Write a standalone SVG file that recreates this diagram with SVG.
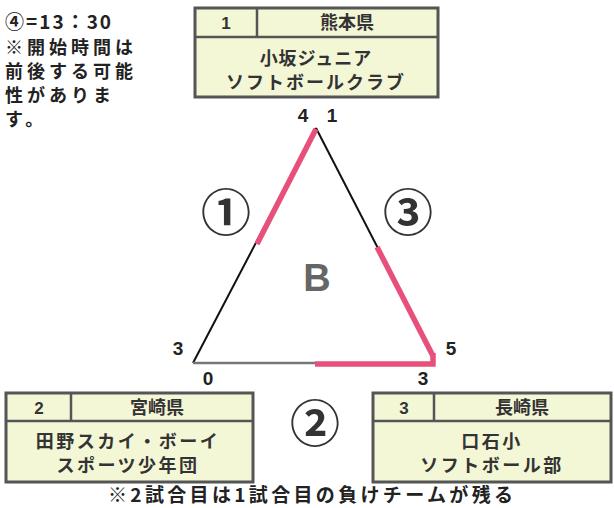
<svg xmlns="http://www.w3.org/2000/svg" width="614" height="508" viewBox="0 0 614 508">
<style>
.box{fill:#f4f7d6;stroke:#555;stroke-width:3}
.div{stroke:#555;stroke-width:2.5}
.t{font-family:"Liberation Sans","Noto Sans CJK JP",sans-serif;font-weight:bold;fill:#333;text-anchor:middle}
.j{font-family:"Noto Sans CJK JP",sans-serif;font-weight:bold;fill:#333;text-anchor:middle}
.note{font-family:"Noto Sans CJK JP",sans-serif;font-weight:bold;fill:#222}
.num{font-family:"Liberation Sans",sans-serif;font-weight:bold;fill:#222;font-size:19px;text-anchor:middle}
.blk{stroke:#111;stroke-width:2;fill:none}
.pink{stroke:#e8507c;stroke-width:5.5;fill:none;stroke-linecap:butt}
.circ{font-family:"Noto Sans CJK JP",sans-serif;font-weight:bold;fill:#333;font-size:50px;text-anchor:middle}
</style>
<rect width="614" height="508" fill="#fff"/>
<g id="notes">
<text class="note" x="5" y="29" font-size="19" letter-spacing="2">④=13：30</text>
<text class="note" x="5" y="54" font-size="18" letter-spacing="4">※開始時間は</text>
<text class="note" x="5" y="78" font-size="18" letter-spacing="4">前後する可能</text>
<text class="note" x="5" y="102" font-size="18" letter-spacing="4">性がありま</text>
<text class="note" x="5" y="126" font-size="18" letter-spacing="4">す。</text>
</g>
<g id="team1">
<rect class="box" x="195" y="8" width="243" height="89"/>
<line class="div" x1="195" y1="37" x2="438" y2="37"/>
<line class="div" x1="257" y1="8" x2="257" y2="37"/>
<text class="t" x="226" y="29" font-size="17">1</text>
<text class="j" x="347" y="29" font-size="18">熊本県</text>
<text class="j" x="316" y="65" font-size="18" letter-spacing="1">小坂ジュニア</text>
<text class="j" x="316" y="89" font-size="18" letter-spacing="2">ソフトボールクラブ</text>
</g>
<g id="team2">
<rect class="box" x="6" y="393" width="247" height="89"/>
<line class="div" x1="6" y1="421" x2="253" y2="421"/>
<line class="div" x1="71" y1="393" x2="71" y2="421"/>
<text class="t" x="39" y="414" font-size="17">2</text>
<text class="j" x="157" y="414" font-size="18">宮崎県</text>
<text class="j" x="128" y="448" font-size="18" letter-spacing="2.5">田野スカイ・ボーイ</text>
<text class="j" x="128" y="472" font-size="18" letter-spacing="2.5">スポーツ少年団</text>
</g>
<g id="team3">
<rect class="box" x="373" y="393" width="238" height="89"/>
<line class="div" x1="373" y1="421" x2="611" y2="421"/>
<line class="div" x1="434" y1="393" x2="434" y2="421"/>
<text class="t" x="404" y="414" font-size="17">3</text>
<text class="j" x="522" y="414" font-size="18">長崎県</text>
<text class="j" x="492" y="448" font-size="18" letter-spacing="2.5">口石小</text>
<text class="j" x="492" y="472" font-size="18" letter-spacing="2.5">ソフトボール部</text>
</g>
<g id="connectors">
<line class="blk" x1="316" y1="128" x2="193" y2="363"/>
<line class="blk" x1="316" y1="128" x2="433" y2="355"/>
<line x1="193" y1="363" x2="315" y2="363" stroke="#777" stroke-width="2.5"/>
<line class="pink" x1="316" y1="129" x2="257" y2="244"/>
<line class="pink" x1="377" y1="247" x2="433" y2="356"/>
<polyline class="pink" points="315,364 433,364 433,353"/>
</g>
<g id="labels">
<text class="num" x="303" y="122">4</text>
<text class="num" x="332" y="122">1</text>
<text class="num" x="178" y="355">3</text>
<text class="num" x="208" y="385">0</text>
<text class="num" x="423" y="385">3</text>
<text class="num" x="451" y="355">5</text>
<text class="circ" x="226" y="231">①</text>
<text class="circ" x="408" y="231">③</text>
<text class="circ" x="315" y="442">②</text>
<text x="317" y="291" font-family="Liberation Sans,sans-serif" font-weight="bold" font-size="38" fill="#666" text-anchor="middle">B</text>
</g>
<text class="note" x="108" y="502" font-size="19" textLength="405" lengthAdjust="spacing">※2試合目は1試合目の負けチームが残る</text>
</svg>
